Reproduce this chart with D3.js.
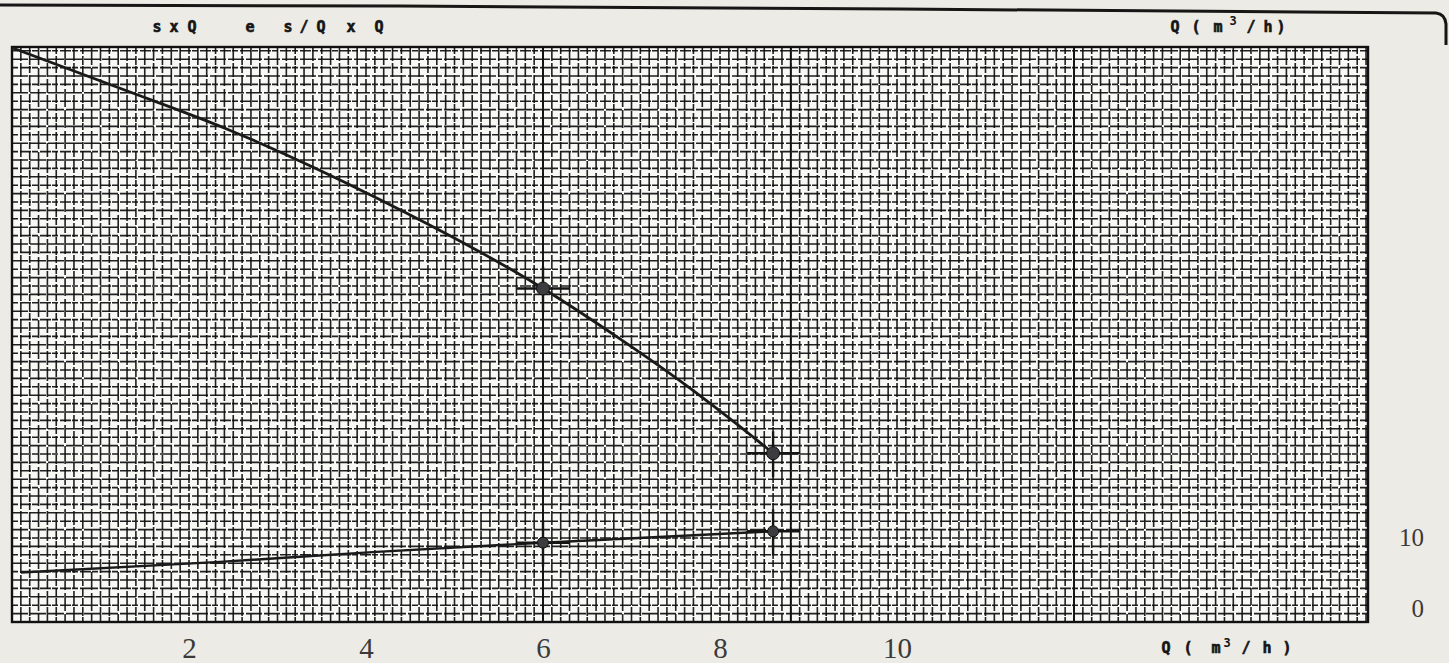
<!DOCTYPE html>
<html>
<head>
<meta charset="utf-8">
<script src="https://cdn.jsdelivr.net/npm/d3@7"></script>
<style>
  html, body { margin: 0; padding: 0; background: #ecebe6; overflow: hidden; }
</style>
</head>
<body>
<script>
// values
const qTicks = [2, 4, 6, 8, 10];           // Q (m3/h) labels under the grid
const vTicks = [0, 10];                    // labels on the right side
const upperQ = [0, 1.22, 2.46, 4.16, 6, 6.87, 7.58, 8.23, 8.6];
const upperV = [78.9, 73.2, 67.3, 57.5, 45, 37.9, 31.7, 25.5, 21.8];
const lowerQ = [0.1, 2.35, 4.12, 6, 8.6];
const lowerV = [5.0, 6.5, 7.9, 9.2, 10.8];
const pointQ = [6, 8.6];                   // measured points
const upperPointV = [45, 21.8];
const lowerPointV = [9.2, 10.8];
const heavyRuleQ = [6, 8.8, 12];           // darker printed lines of the paper

function drawSheet() {
    const W = 1449, H = 663;
    const frame = {left: 12, top: 47, right: 1368, bottom: 622};

    let svg = d3.select('body').append('svg')
        .attr('width', W)
        .attr('height', H);

    let x = d3.scaleLinear().domain([0, 10]).range([12, 897]);
    let y = d3.scaleLinear().domain([0, 10]).range([608, 537]);

    // paper
    svg.append('rect').attr('width', W).attr('height', H).attr('fill', '#ecebe6');
    svg.append('rect')
        .attr('x', frame.left).attr('y', frame.top)
        .attr('width', frame.right - frame.left)
        .attr('height', frame.bottom - frame.top)
        .attr('fill', '#f8f8f5');

    // fine grid, one line each 0.1 m3/h
    let step = x(0.1) - x(0);
    let grid = svg.append('g').attr('stroke', '#0e0e0e').attr('stroke-opacity', 0.92);
    grid.selectAll('.vline')
        .data(d3.range(frame.left + step, frame.right, step))
        .enter().append('line')
        .attr('class', 'vline')
        .attr('x1', d => d).attr('x2', d => d)
        .attr('y1', frame.top).attr('y2', frame.bottom)
        .attr('stroke-width', 1.6)
        .attr('stroke-dasharray', (d, i) => i % 3 == 0 ? '14,2' : (i % 3 == 1 ? '7,2,9,1' : '18,3'));
    grid.selectAll('.hline')
        .data(d3.range(frame.bottom - 8.4, frame.top, -8.4))
        .enter().append('line')
        .attr('class', 'hline')
        .attr('y1', d => d).attr('y2', d => d)
        .attr('x1', frame.left).attr('x2', frame.right)
        .attr('stroke-width', 1.6)
        .attr('stroke-dasharray', (d, i) => i % 2 == 0 ? '16,2' : '6,2,11,1');

    svg.selectAll('.heavy')
        .data(heavyRuleQ)
        .enter().append('line')
        .attr('x1', d => x(d)).attr('x2', d => x(d))
        .attr('y1', frame.top).attr('y2', frame.bottom)
        .attr('stroke', '#111').attr('stroke-width', 1.9);

    svg.append('rect')
        .attr('x', frame.left).attr('y', frame.top)
        .attr('width', frame.right - frame.left)
        .attr('height', frame.bottom - frame.top)
        .attr('fill', 'none').attr('stroke', '#111').attr('stroke-width', 2.4);

    // the two curves
    let line = d3.line().x(d => x(d[0])).y(d => y(d[1])).curve(d3.curveMonotoneX);
    svg.append('path')
        .datum(d3.zip(upperQ, upperV))
        .attr('d', line)
        .attr('fill', 'none').attr('stroke', '#1a1a1a').attr('stroke-width', 2.8);
    svg.append('path')
        .datum(d3.zip(lowerQ, lowerV))
        .attr('d', line)
        .attr('fill', 'none').attr('stroke', '#1a1a1a').attr('stroke-width', 2.4);

    // points with their little cross marks
    let pts = d3.zip(pointQ, upperPointV).map(d => ({q: d[0], v: d[1], r: 6.5}))
        .concat(d3.zip(pointQ, lowerPointV).map(d => ({q: d[0], v: d[1], r: 5.5})));
    let cross = svg.append('g').attr('stroke', '#151515').attr('stroke-width', 2.4);
    cross.selectAll('.ch').data(pts).enter().append('line')
        .attr('x1', d => x(d.q) - 26).attr('x2', d => x(d.q) + 27)
        .attr('y1', d => y(d.v)).attr('y2', d => y(d.v));
    cross.selectAll('.cv').data(pts).enter().append('line')
        .attr('x1', d => x(d.q)).attr('x2', d => x(d.q))
        .attr('y1', d => y(d.v) - 22).attr('y2', d => y(d.v) + 24);
    svg.selectAll('.pt').data(pts).enter().append('circle')
        .attr('cx', d => x(d.q)).attr('cy', d => y(d.v)).attr('r', d => d.r)
        .attr('fill', '#3b3b40').attr('stroke', '#111').attr('stroke-width', 1);

    // axes: bare numbers, no ticks
    let xAxis = svg.append('g')
        .attr('transform', 'translate(0,' + frame.bottom + ')')
        .call(d3.axisBottom(x).tickValues(qTicks).tickSize(0).tickPadding(15).tickFormat(d3.format('d')));
    xAxis.select('.domain').remove();
    xAxis.selectAll('text')
        .attr('font-family', 'Liberation Serif, serif').attr('font-size', 29).attr('fill', '#3a3a3a');

    let yAxis = svg.append('g')
        .attr('transform', 'translate(1424,0)')
        .call(d3.axisRight(y).tickValues(vTicks).tickSize(0).tickFormat(d3.format('d')));
    yAxis.select('.domain').remove();
    yAxis.selectAll('text')
        .attr('x', 0).attr('text-anchor', 'end')
        .attr('font-family', 'Liberation Serif, serif').attr('font-size', 25).attr('fill', '#3a3a3a');

    // typed captions
    let typed = [
        ['s', 157, 27], ['x', 174, 27], ['Q', 192, 27], ['e', 250, 27],
        ['s', 288, 27], ['/', 304, 27], ['Q', 321, 27], ['x', 351, 27], ['Q', 379, 27],
        ['Q', 1175, 27], ['(', 1196, 27], ['m', 1218, 27], ['/', 1251, 27], ['h', 1268, 27], [')', 1281, 27],
        ['Q', 1166, 648], ['(', 1188, 648], ['m', 1216, 648], ['/', 1246, 648], ['h', 1267, 648], [')', 1287, 648]
    ];
    svg.selectAll('.typed').data(typed).enter().append('text')
        .attr('x', d => d[1]).attr('y', d => d[2])
        .attr('dy', '0.35em').attr('text-anchor', 'middle')
        .attr('font-family', 'DejaVu Sans Mono, monospace').attr('font-weight', 'bold')
        .attr('font-size', 15).attr('fill', '#151515')
        .attr('stroke', '#151515').attr('stroke-width', 0.6)
        .text(d => d[0]);
    svg.selectAll('.sup').data([[1233, 21], [1227, 643]]).enter().append('text')
        .attr('x', d => d[0]).attr('y', d => d[1])
        .attr('dy', '0.35em').attr('text-anchor', 'middle')
        .attr('font-family', 'DejaVu Sans Mono, monospace').attr('font-weight', 'bold')
        .attr('font-size', 12).attr('fill', '#151515')
        .text('3');

    // edge of the photocopied page
    svg.append('path')
        .attr('d', 'M0,5 L400,6 L900,9 L1300,12 L1436,13 Q1445,14 1446,24 L1446,45')
        .attr('fill', 'none').attr('stroke', '#161616').attr('stroke-width', 3);
}

document.addEventListener('DOMContentLoaded', drawSheet);
</script>
</body>
</html>
